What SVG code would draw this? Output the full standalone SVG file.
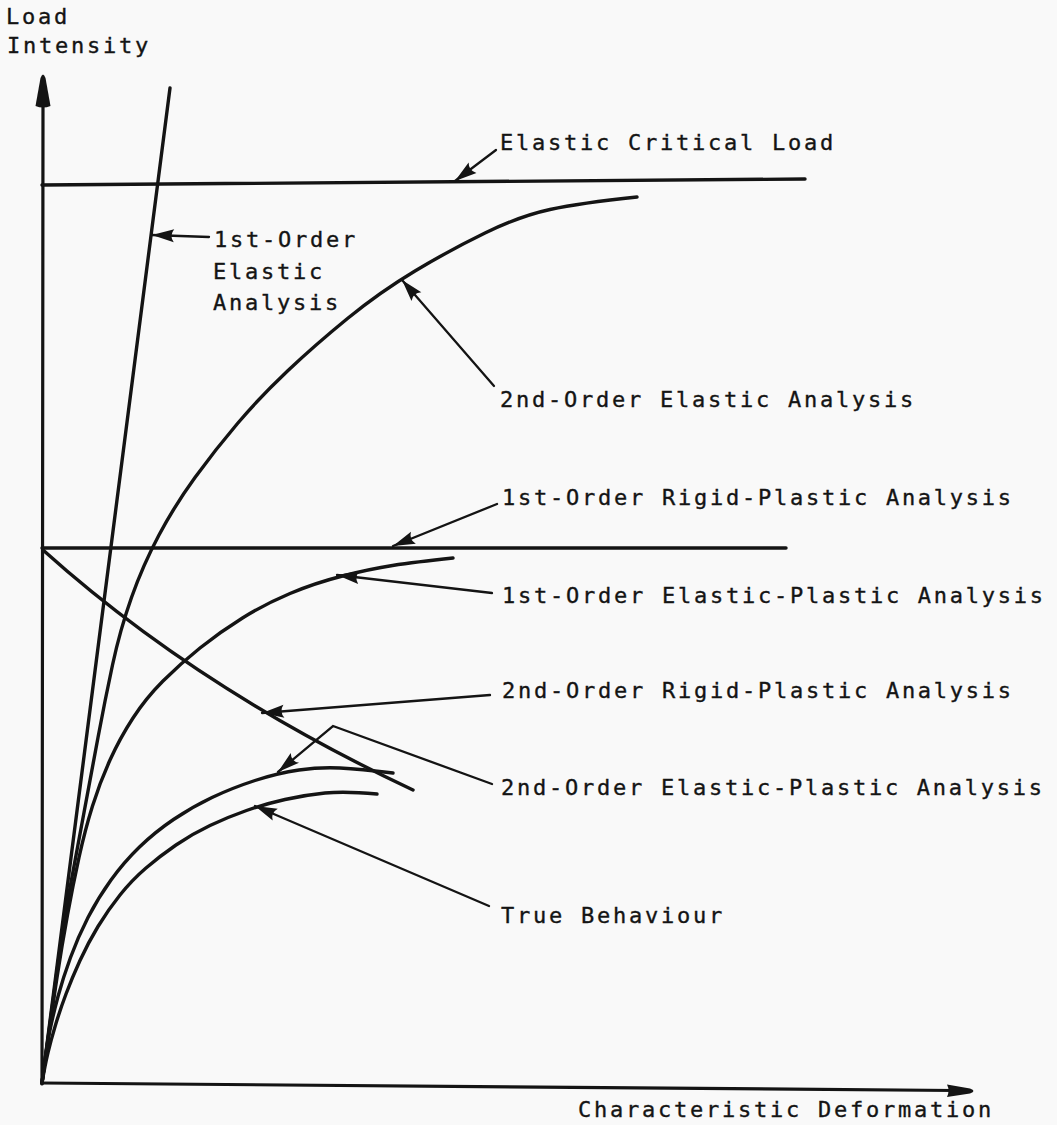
<svg xmlns="http://www.w3.org/2000/svg" width="1057" height="1125" viewBox="0 0 1057 1125">
  <style>
    .axis { fill: none; stroke: #141414; stroke-width: 3.2; stroke-linecap: round; }
    .curve { fill: none; stroke: #141414; stroke-width: 3.4; stroke-linecap: round; stroke-linejoin: round; }
    .leader { fill: none; stroke: #141414; stroke-width: 2.3; stroke-linecap: round; stroke-linejoin: miter; marker-end: url(#tip); }
    .label { font-family: "DejaVu Sans Mono", "Liberation Mono", monospace; font-size: 22px; letter-spacing: 2.75px; fill: #141414; stroke: #141414; stroke-width: 0.35px; }
    .head { fill: #141414; }
  </style>
  <defs>
    <marker id="tip" markerUnits="userSpaceOnUse" markerWidth="30" markerHeight="20" viewBox="-26 -10 28 20" refX="0" refY="0" orient="auto" overflow="visible">
      <path d="M0,0 L-22,-6.5 Q-17,0 -22,6.5 Z" fill="#141414"/>
    </marker>
  </defs>

  <rect width="1057" height="1125" fill="#f9f9f9"/>

  <!-- axes -->
  <g id="axes">
    <path class="axis" d="M42,1084 L43,100"/>
    <path class="head" d="M40.5,78 Q43,71 45.5,78 L50.5,106 Q43,109 35.5,106 Z"/>
    <path class="axis" d="M42,1083 L955,1090.5"/>
    <path class="head" d="M947,1084.5 L970,1088.5 Q977,1091 970,1093.5 L947,1097 Q950,1090.5 947,1084.5 Z"/>
  </g>

  <!-- load-deformation curves -->
  <g id="first-order-elastic">
    <path class="curve" d="M42,1083 L170,88"/>
  </g>
  <g id="elastic-critical-load">
    <path class="curve" d="M42,185 L805,179"/>
  </g>
  <g id="second-order-elastic">
    <path class="curve" d="M42,1083 Q53,1000 58.5,960 Q64,920 70.5,885 Q77,850 84,812.5 Q91,775 98,737.5 Q105,700 112.5,665 Q120,630 131.5,597.5 Q143,565 159,535 Q175,505 195,477.5 Q215,450 237.5,423.5 Q260,397 287.5,371 Q315,345 347.5,318.5 Q380,292 415,271 Q450,250 485,233 Q520,216 550,209.5 Q580,203 637,197"/>
  </g>
  <g id="first-order-rigid-plastic">
    <path class="curve" d="M42,548 L786,548"/>
  </g>
  <g id="first-order-elastic-plastic">
    <path class="curve" d="M42,1083 Q52,1010 57,977.5 Q62,945 67.5,915 Q73,885 79,857.5 Q85,830 92.5,806 Q100,782 110,760 Q120,738 133,718 Q146,698 163,681 Q180,664 200,648 Q220,632 242.5,618 Q265,604 290,593.5 Q315,583 342.5,576 Q370,569 392.5,565.5 Q415,562 453,558"/>
  </g>
  <g id="second-order-rigid-plastic">
    <path class="curve" d="M43,550 Q196.7,688.3 413,790"/>
  </g>
  <g id="second-order-elastic-plastic">
    <path class="curve" d="M42,1083 Q46,1050 49.5,1032.5 Q53,1015 58,996.5 Q63,978 70.5,957.5 Q78,937 88,917.5 Q98,898 111,880 Q124,862 139.5,847 Q155,832 173.5,819.5 Q192,807 212,797.5 Q232,788 255,780.5 Q278,773 299,770 Q320,767 340,768 Q360,769 393,773"/>
  </g>
  <g id="true-behaviour">
    <path class="curve" d="M42,1083 Q45,1065 48,1052.5 Q51,1040 55.5,1025 Q60,1010 66,994 Q72,978 80,960.5 Q88,943 98,926.5 Q108,910 120,895 Q132,880 146,868 Q160,856 176,845 Q192,834 210,825.5 Q228,817 246.5,810.5 Q265,804 285,799.5 Q305,795 325,793 Q345,791 377,794"/>
  </g>

  <!-- labels -->
  <g id="label-load-intensity">
    <text class="label" x="6" y="24">Load</text>
    <text class="label" x="7" y="53">Intensity</text>
  </g>
  <g id="label-first-order-elastic">
    <text class="label" x="214" y="247">1st-Order</text>
    <text class="label" x="213" y="279">Elastic</text>
    <text class="label" x="213" y="310">Analysis</text>
  </g>
  <g id="label-elastic-critical-load">
    <text class="label" x="500" y="150">Elastic Critical Load</text>
  </g>
  <g id="label-second-order-elastic">
    <text class="label" x="500" y="407">2nd-Order Elastic Analysis</text>
  </g>
  <g id="label-first-order-rigid-plastic">
    <text class="label" x="502" y="505">1st-Order Rigid-Plastic Analysis</text>
  </g>
  <g id="label-first-order-elastic-plastic">
    <text class="label" x="502" y="603">1st-Order Elastic-Plastic Analysis</text>
  </g>
  <g id="label-second-order-rigid-plastic">
    <text class="label" x="502" y="698">2nd-Order Rigid-Plastic Analysis</text>
  </g>
  <g id="label-second-order-elastic-plastic">
    <text class="label" x="501" y="795">2nd-Order Elastic-Plastic Analysis</text>
  </g>
  <g id="label-true-behaviour">
    <text class="label" x="501" y="923">True Behaviour</text>
  </g>
  <g id="label-characteristic-deformation">
    <text class="label" x="578" y="1117">Characteristic Deformation</text>
  </g>

  <!-- leader arrows from labels to curves -->
  <g id="connectors">
    <path class="leader" d="M496,150 L455,181"/>
    <path class="leader" d="M209,237 L152,235"/>
    <path class="leader" d="M494,386 L402,280"/>
    <path class="leader" d="M497,504 L393,546"/>
    <path class="leader" d="M492,593 L337,575"/>
    <path class="leader" d="M490,695 L262,713"/>
    <path class="leader" d="M492,784 L333,726 L278,772"/>
    <path class="leader" d="M489,906 L255,806"/>
  </g>
</svg>
